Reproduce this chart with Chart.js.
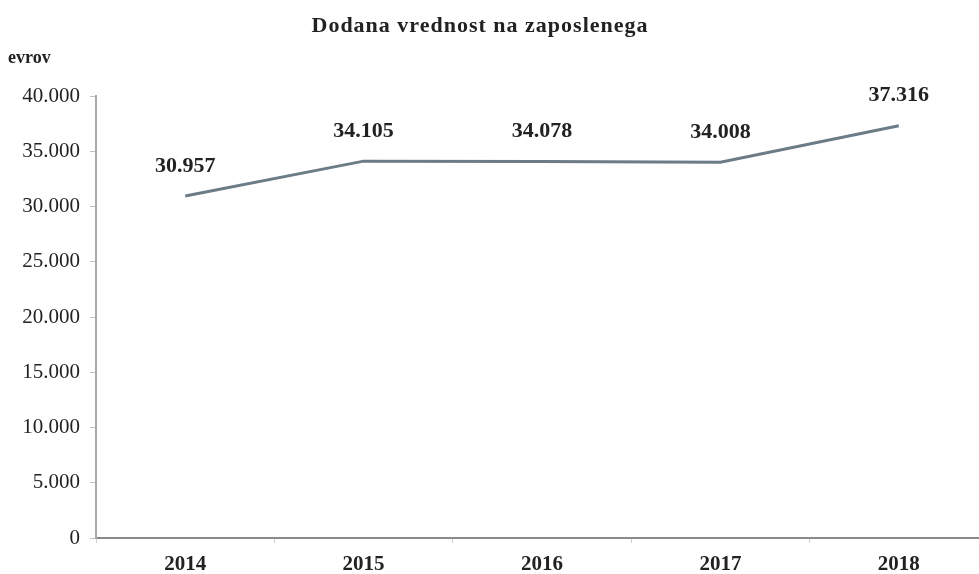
<!DOCTYPE html>
<html lang="sl">
<head>
  <meta charset="UTF-8" />
  <title>Dodana vrednost na zaposlenega</title>
  <script src="https://cdn.jsdelivr.net/npm/chart.js"></script>
  <style>
    html, body {
      margin: 0;
      padding: 0;
      background: #fff;
      overflow: hidden;
    }
    .wrap {
      width: 990px;
      height: 574px;
    }
  </style>
</head>
<body>
  <div class="wrap">
    <canvas id="chart" width="990" height="574"></canvas>
  </div>

  <script>
    // data
    const years = ['2014', '2015', '2016', '2017', '2018'];
    const values = [30957, 34105, 34078, 34008, 37316];
    const yTicks = [0, 5000, 10000, 15000, 20000, 25000, 30000, 35000, 40000];

    const titleText = 'Dodana vrednost na zaposlenega';
    const unitText = 'evrov';

    const serif = '"Liberation Serif", "Times New Roman", serif';

    function fmt(v) {
      return String(v).replace(/\B(?=(\d{3})+(?!\d))/g, '.');
    }

    // labels above points + title + unit label
    const textPlugin = {
      id: 'texts',
      afterDatasetsDraw(chart) {
        const ctx = chart.ctx;
        const meta = chart.getDatasetMeta(0);
        ctx.save();
        ctx.fillStyle = '#222';
        ctx.textAlign = 'center';
        ctx.textBaseline = 'middle';
        ctx.font = 'bold 22px ' + serif;
        meta.data.forEach((pt, i) => {
          ctx.fillText(fmt(values[i]), pt.x, pt.y - 30);
        });

        ctx.letterSpacing = '1px';
        ctx.font = 'bold 22px ' + serif;
        ctx.fillText(titleText, 480, 26);

        ctx.letterSpacing = '0px';
        ctx.textAlign = 'left';
        ctx.font = 'bold 18px ' + serif;
        ctx.fillText(unitText, 8, 58);
        ctx.restore();
      }
    };

    const ctx = document.getElementById('chart').getContext('2d');
    new Chart(ctx, {
      type: 'line',
      data: {
        labels: years,
        datasets: [{
          data: values,
          borderColor: '#6c7c87',
          borderWidth: 3,
          pointRadius: 0,
          tension: 0,
          fill: false
        }]
      },
      options: {
        responsive: false,
        animation: false,
        layout: { padding: { top: 96, right: 2, left: 0, bottom: 0 } },
        plugins: {
          legend: { display: false },
          tooltip: { enabled: false },
          title: { display: false }
        },
        scales: {
          x: {
            offset: true,
            grid: {
              offset: true,
              drawOnChartArea: false,
              color: '#d0d0d0',
              tickLength: 5
            },
            border: { color: '#8a8a8a', width: 2 },
            ticks: {
              color: '#222',
              padding: 9,
              font: { family: serif, size: 21, weight: 'bold' }
            },
            afterFit(scale) { scale.height = 36; }
          },
          y: {
            min: 0,
            max: 40000,
            afterBuildTicks(scale) {
              scale.ticks = yTicks.map(v => ({ value: v }));
            },
            grid: {
              drawOnChartArea: false,
              color: '#c0c0c0',
              tickLength: 6
            },
            border: { color: '#a8a8a8', width: 2 },
            ticks: {
              color: '#222',
              padding: 10,
              font: { family: serif, size: 21 },
              callback: v => fmt(v)
            },
            afterFit(scale) { scale.width = 96; }
          }
        }
      },
      plugins: [textPlugin]
    });
  </script>
</body>
</html>
